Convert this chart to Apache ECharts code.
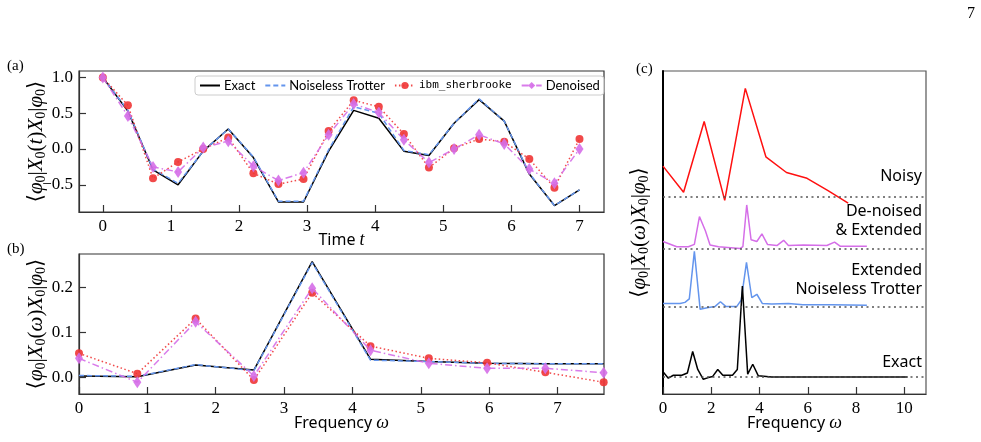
<!DOCTYPE html>
<html>
<head>
<meta charset="utf-8">
<script src="https://cdn.jsdelivr.net/npm/echarts@6.0.0/dist/echarts.min.js"></script>
<style>
  html, body { margin: 0; padding: 0; background: #fff; }
  #chart { width: 981px; height: 442px; }
</style>
</head>
<body>
<div id="chart"></div>
<script>
// panel (a): time signal
const timeA = [0, 0.368, 0.737, 1.105, 1.474, 1.842, 2.211, 2.579, 2.947, 3.316,
  3.684, 4.053, 4.421, 4.789, 5.158, 5.526, 5.895, 6.263, 6.632, 7.0];
const exactA = [1.0, 0.53, -0.29, -0.50, -0.03, 0.28, -0.12, -0.74, -0.74, -0.03,
  0.54, 0.43, -0.03, -0.09, 0.36, 0.69, 0.39, -0.35, -0.79, -0.57];
const trotterA = [1.0, 0.54, -0.28, -0.48, -0.03, 0.28, -0.11, -0.73, -0.73, -0.01,
  0.59, 0.50, -0.02, -0.08, 0.36, 0.70, 0.39, -0.34, -0.79, -0.57];
const ibmA = [1.0, 0.61, -0.41, -0.18, 0.0, 0.16, -0.34, -0.49, -0.42, 0.25,
  0.68, 0.59, 0.21, -0.26, 0.01, 0.14, 0.10, -0.14, -0.54, 0.14];
const denoisedA = [1.0, 0.46, -0.25, -0.32, 0.02, 0.11, -0.24, -0.44, -0.33, 0.20,
  0.63, 0.51, 0.13, -0.19, 0.0, 0.20, 0.07, -0.28, -0.48, 0.0];

// panel (b): spectrum
const freqB = [0, 0.853, 1.706, 2.558, 3.411, 4.264, 5.117, 5.970, 6.822, 7.675];
const exactB = [0.004, 0.002, 0.028, 0.017, 0.257, 0.041, 0.036, 0.032, 0.031, 0.031];
const trotterB = [0.005, 0.003, 0.029, 0.016, 0.255, 0.039, 0.036, 0.032, 0.031, 0.031];
const ibmB = [0.054, 0.009, 0.131, -0.005, 0.188, 0.070, 0.043, 0.033, 0.012, -0.010];
const denoisedB = [0.043, -0.010, 0.124, 0.004, 0.198, 0.061, 0.032, 0.021, 0.021, 0.011];

// panel (c): stacked spectra (noisy one is ibmB)
const omegaDen = [0, 0.57, 1.05, 1.30, 1.51, 1.76, 1.95, 2.30, 3.20, 3.31, 3.47, 3.65,
  3.89, 4.10, 4.33, 4.72, 5.00, 5.20, 5.82, 6.79, 7.11, 7.34, 8.45];
const valDen = [0.015, 0.006, 0.006, 0.010, 0.058, 0.033, 0.009, 0.006, 0.003, 0.006, 0.078, 0.018,
  0.015, 0.028, 0.010, 0.008, 0.017, 0.008, 0.009, 0.008, 0.014, 0.007, 0.007];
const omegaTro = [0, 0.71, 0.91, 1.09, 1.30, 1.54, 1.88, 2.16, 2.38, 2.60, 3.06, 3.24,
  3.46, 3.68, 3.89, 4.12, 4.51, 5.20, 5.80, 7.00, 8.45];
const valTro = [0.010, 0.010, 0.012, 0.018, 0.100, 0.000, 0.003, 0.005, 0.013, 0.005, 0.005, 0.016,
  0.081, 0.020, 0.026, 0.010, 0.009, 0.010, 0.008, 0.008, 0.007];
const omegaEx = [0, 0.22, 0.43, 0.78, 1.01, 1.23, 1.44, 1.67, 1.88, 2.06, 2.27, 2.48,
  2.88, 3.08, 3.29, 3.51, 3.72, 3.95, 4.50, 6.00, 8.00, 10.14];
const valEx = [0.013, 0.002, 0.007, 0.007, 0.011, 0.048, 0.017, 0.000, 0.003, 0.005, 0.017, 0.007,
  0.007, 0.017, 0.161, 0.009, 0.026, 0.006, 0.004, 0.004, 0.004, 0.004];
const offsetsC = [0.339, 0.248, 0.146, 0.0253]; // noisy, denoised, trotter, exact

// tick labels
const ticksAx = [0, 1, 2, 3, 4, 5, 6, 7];
const ticksAy = [-0.5, 0, 0.5, 1.0];
const ticksBx = [0, 1, 2, 3, 4, 5, 6, 7];
const ticksBy = [0, 0.1, 0.2];
const ticksCx = [0, 2, 4, 6, 8, 10];

const serif = "'Liberation Serif', 'DejaVu Serif', serif";
const sans = "'Noto Sans', 'DejaVu Sans', sans-serif";
const cBlack = '#000', cBlue = '#6495ED', cRed = '#f03535', cViolet = '#d56ee8';

const zip = (xs, ys, off) => xs.map((x, i) => [x, ys[i] + (off || 0)]);
const fmt1 = v => (v < 0 ? '\u2212' : '') + Math.abs(v).toFixed(1);

const mathRich = {
  n: { fontFamily: serif, fontSize: 21, lineHeight: 24, color: '#000' },
  i: { fontFamily: serif, fontStyle: 'italic', fontSize: 21, lineHeight: 24, color: '#000' },
  s: { fontFamily: serif, fontSize: 14, lineHeight: 14, verticalAlign: 'bottom', color: '#000' }
};
const braket = arg => '{n|\u27E8}{i|\u03C6}{s|0}{n||}{i|X}{s|0}{n|(}{i|' + arg + '}{n|)}{i|X}{s|0}{n||}{i|\u03C6}{s|0}{n|\u27E9}';

const tickLbl = { color: '#000', fontFamily: serif, fontSize: 17, margin: 6 };
const tick = { show: true, inside: true, length: 7, lineStyle: { color: '#333', width: 1.2 } };
const spine = { show: true, onZero: false, lineStyle: { color: '#333', width: 1.2 } };

function lineSeries(name, data, xi, kind) {
  const s = { name, type: 'line', xAxisIndex: xi, yAxisIndex: xi, data, showAllSymbol: true, z: 2 };
  if (kind === 'exact') {
    Object.assign(s, { showSymbol: false, symbol: 'none', lineStyle: { color: cBlack, width: 1.5 }, itemStyle: { color: cBlack } });
  } else if (kind === 'trotter') {
    Object.assign(s, { showSymbol: false, symbol: 'none', z: 3, lineStyle: { color: cBlue, width: 1.5, type: [5, 3] }, itemStyle: { color: cBlue } });
  } else if (kind === 'ibm') {
    Object.assign(s, { symbol: 'circle', symbolSize: 8, z: 4, lineStyle: { color: cRed, width: 1.5, type: [1.5, 2.5], opacity: 0.9 }, itemStyle: { color: cRed, opacity: 0.9 } });
  } else {
    Object.assign(s, { symbol: 'diamond', symbolSize: [8, 12], z: 5, lineStyle: { color: cViolet, width: 1.5, type: [7, 3, 1.5, 3], opacity: 0.9 }, itemStyle: { color: cViolet, opacity: 0.9 } });
  }
  return s;
}

function stackSeries(name, xs, ys, off, color) {
  return {
    name, type: 'line', xAxisIndex: 2, yAxisIndex: 2, data: zip(xs, ys, off),
    showSymbol: false, symbol: 'none', lineStyle: { color, width: 1.5 }, itemStyle: { color },
    markLine: {
      silent: true, symbol: ['none', 'none'], label: { show: false },
      lineStyle: { type: [2, 3.5], color: '#555', width: 1.5 },
      data: [{ yAxis: off }]
    }
  };
}

const nameStyle = { fontFamily: sans, fontSize: 16, color: '#000', rich: { i: { fontFamily: serif, fontStyle: 'italic', fontSize: 18 } } };

const chart = echarts.init(document.getElementById('chart'), null, { renderer: 'canvas' });
chart.setOption({
  animation: false,
  backgroundColor: '#fff',
  grid: [
    { left: 79, top: 71, width: 525, height: 141, show: true, borderColor: '#333', borderWidth: 1.2 },
    { left: 79, top: 254, width: 525, height: 140, show: true, borderColor: '#333', borderWidth: 1.2 },
    { left: 663, top: 71, width: 263, height: 323, show: true, borderColor: '#555', borderWidth: 1.2 }
  ],
  legend: {
    data: [
      { name: 'Exact', itemStyle: { opacity: 0 } },
      { name: 'Noiseless Trotter', itemStyle: { opacity: 0 } },
      { name: 'ibm_sherbrooke' },
      { name: 'Denoised' }
    ],
    left: 195, top: 76,
    padding: [3, 4, 3, 4], itemGap: 9, itemWidth: 20, itemHeight: 9,
    backgroundColor: 'rgba(255,255,255,0.85)', borderColor: '#ccc', borderWidth: 1, borderRadius: 3,
    textStyle: {
      fontFamily: "Lato, 'Noto Sans', sans-serif", fontSize: 13, color: '#000', padding: [0, 0, 0, -1],
      rich: { m: { fontFamily: "'DejaVu Sans Mono', 'Liberation Mono', monospace", fontSize: 11, color: '#000' } }
    },
    formatter: n => n === 'ibm_sherbrooke' ? '{m|' + n + '}' : n
  },
  xAxis: [
    {
      gridIndex: 0, type: 'value', min: -0.35, max: 7.36,
      axisLine: spine, axisTick: Object.assign({ customValues: ticksAx }, tick),
      axisLabel: Object.assign({ customValues: ticksAx }, tickLbl), splitLine: { show: false },
      name: 'Time {i|t}', nameLocation: 'middle', nameGap: 19, nameMoveOverlap: false, nameTextStyle: nameStyle
    },
    {
      gridIndex: 1, type: 'value', min: 0, max: 7.68,
      axisLine: spine, axisTick: Object.assign({ customValues: ticksBx }, tick),
      axisLabel: Object.assign({ customValues: ticksBx }, tickLbl), splitLine: { show: false },
      name: 'Frequency {i|\u03C9}', nameLocation: 'middle', nameGap: 20, nameMoveOverlap: false, nameTextStyle: nameStyle
    },
    {
      gridIndex: 2, type: 'value', min: 0, max: 10.9,
      axisLine: spine, axisTick: Object.assign({ customValues: ticksCx }, tick),
      axisLabel: Object.assign({ customValues: ticksCx }, tickLbl), splitLine: { show: false },
      name: 'Frequency {i|\u03C9}', nameLocation: 'middle', nameGap: 20, nameMoveOverlap: false, nameTextStyle: nameStyle
    }
  ],
  yAxis: [
    {
      gridIndex: 0, type: 'value', min: -0.88, max: 1.09,
      axisLine: spine, axisTick: Object.assign({ customValues: ticksAy }, tick),
      axisLabel: Object.assign({ customValues: ticksAy, formatter: fmt1 }, tickLbl), splitLine: { show: false },
      name: braket('t'), nameLocation: 'middle', nameGap: 31, nameMoveOverlap: false,
      nameTextStyle: { rich: mathRich }
    },
    {
      gridIndex: 1, type: 'value', min: -0.036, max: 0.274,
      axisLine: spine, axisTick: Object.assign({ customValues: ticksBy }, tick),
      axisLabel: Object.assign({ customValues: ticksBy, formatter: fmt1 }, tickLbl), splitLine: { show: false },
      name: braket('\u03C9'), nameLocation: 'middle', nameGap: 31, nameMoveOverlap: false,
      nameTextStyle: { rich: mathRich }
    },
    {
      gridIndex: 2, type: 'value', min: 0, max: 0.557,
      axisLine: { show: true, onZero: false, lineStyle: { color: '#000', width: 2 } },
      axisTick: { show: false }, axisLabel: { show: false }, splitLine: { show: false },
      name: braket('\u03C9'), nameLocation: 'middle', nameGap: 12, nameMoveOverlap: false,
      nameTextStyle: { rich: mathRich }
    }
  ],
  series: [
    lineSeries('Exact', zip(timeA, exactA), 0, 'exact'),
    lineSeries('Noiseless Trotter', zip(timeA, trotterA), 0, 'trotter'),
    lineSeries('ibm_sherbrooke', zip(timeA, ibmA), 0, 'ibm'),
    lineSeries('Denoised', zip(timeA, denoisedA), 0, 'den'),
    lineSeries('Exact', zip(freqB, exactB), 1, 'exact'),
    lineSeries('Noiseless Trotter', zip(freqB, trotterB), 1, 'trotter'),
    lineSeries('ibm_sherbrooke', zip(freqB, ibmB), 1, 'ibm'),
    lineSeries('Denoised', zip(freqB, denoisedB), 1, 'den'),
    stackSeries('Noisy', freqB, ibmB, offsetsC[0], '#ff1010'),
    stackSeries('De-noised & Extended', omegaDen, valDen, offsetsC[1], cViolet),
    stackSeries('Extended Noiseless Trotter', omegaTro, valTro, offsetsC[2], cBlue),
    stackSeries('Exact (c)', omegaEx, valEx, offsetsC[3], cBlack)
  ],
  graphic: [
    { type: 'text', left: 967, top: 6, style: { text: '7', font: '16px ' + serif, fill: '#000' } },
    { type: 'text', left: 7, top: 59, style: { text: '(a)', font: '15px ' + serif, fill: '#000' } },
    { type: 'text', left: 7, top: 242, style: { text: '(b)', font: '15px ' + serif, fill: '#000' } },
    { type: 'text', left: 636, top: 62, style: { text: '(c)', font: '15px ' + serif, fill: '#000' } },
    { type: 'text', right: 59, top: 168, style: { text: 'Noisy', font: '16px ' + sans, fill: '#000' } },
    { type: 'text', right: 59, top: 203, style: { text: 'De-noised', font: '16px ' + sans, fill: '#000' } },
    { type: 'text', right: 59, top: 222, style: { text: '& Extended', font: '16px ' + sans, fill: '#000' } },
    { type: 'text', right: 59, top: 262, style: { text: 'Extended', font: '16px ' + sans, fill: '#000' } },
    { type: 'text', right: 59, top: 281, style: { text: 'Noiseless Trotter', font: '16px ' + sans, fill: '#000' } },
    { type: 'text', right: 59, top: 354, style: { text: 'Exact', font: '16px ' + sans, fill: '#000' } }
  ]
});
</script>
</body>
</html>
